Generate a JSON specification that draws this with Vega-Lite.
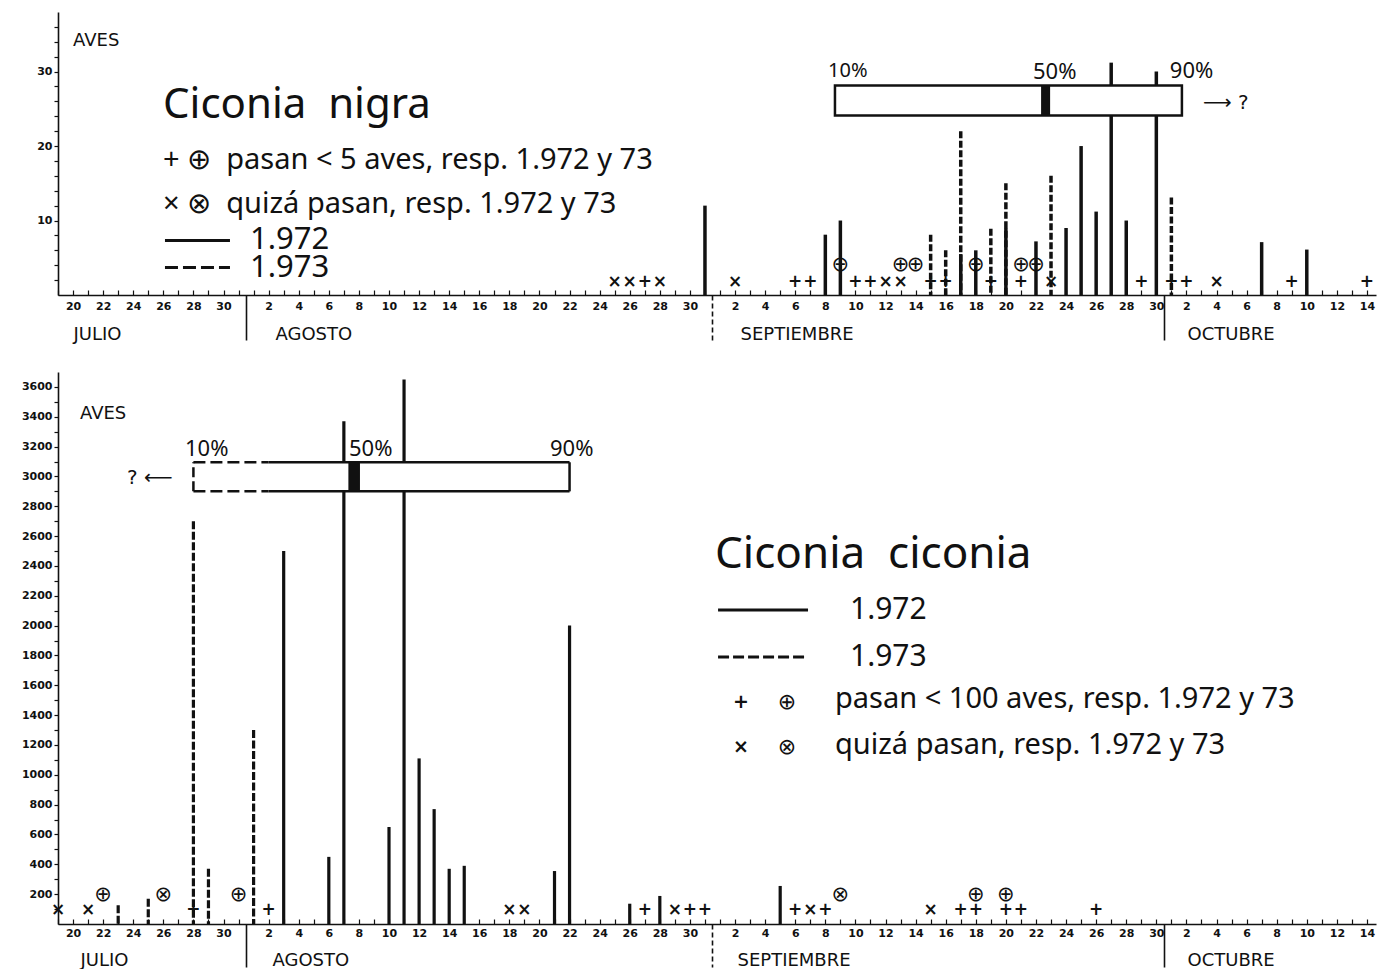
{
  "$schema": "https://vega.github.io/schema/vega-lite/v6.json",
  "background": "white",
  "padding": {"left": 21, "top": 12, "right": 2, "bottom": 0},
  "spacing": 29,
  "config": {"view": {"stroke": null}, "text": {"color": "#111"}},
  "datasets": {
    "uno": [{}],
    "nigra_barras": [
      {"dia": 62, "aves": 12, "anio": 1972},
      {"dia": 70, "aves": 8.1, "anio": 1972},
      {"dia": 71, "aves": 10, "anio": 1972},
      {"dia": 79, "aves": 5.5, "anio": 1972},
      {"dia": 80, "aves": 6, "anio": 1972},
      {"dia": 82, "aves": 9, "anio": 1972},
      {"dia": 84, "aves": 7.2, "anio": 1972},
      {"dia": 86, "aves": 9, "anio": 1972},
      {"dia": 87, "aves": 20, "anio": 1972},
      {"dia": 88, "aves": 11.2, "anio": 1972},
      {"dia": 89, "aves": 31.2, "anio": 1972},
      {"dia": 90, "aves": 10, "anio": 1972},
      {"dia": 92, "aves": 30, "anio": 1972},
      {"dia": 99, "aves": 7.1, "anio": 1972},
      {"dia": 102, "aves": 6.1, "anio": 1972},
      {"dia": 77, "aves": 8.1, "anio": 1973},
      {"dia": 78, "aves": 6, "anio": 1973},
      {"dia": 79, "aves": 22, "anio": 1973},
      {"dia": 81, "aves": 8.9, "anio": 1973},
      {"dia": 82, "aves": 15, "anio": 1973},
      {"dia": 85, "aves": 16, "anio": 1973},
      {"dia": 93, "aves": 13.1, "anio": 1973}
    ],
    "nigra_marcas": [
      {"dia": 56, "anio": 1972, "tipo": "quiza"},
      {"dia": 57, "anio": 1972, "tipo": "quiza"},
      {"dia": 58, "anio": 1972, "tipo": "pasan"},
      {"dia": 59, "anio": 1972, "tipo": "quiza"},
      {"dia": 64, "anio": 1972, "tipo": "quiza"},
      {"dia": 68, "anio": 1972, "tipo": "pasan"},
      {"dia": 69, "anio": 1972, "tipo": "pasan"},
      {"dia": 72, "anio": 1972, "tipo": "pasan"},
      {"dia": 73, "anio": 1972, "tipo": "pasan"},
      {"dia": 74, "anio": 1972, "tipo": "quiza"},
      {"dia": 75, "anio": 1972, "tipo": "quiza"},
      {"dia": 77, "anio": 1972, "tipo": "pasan"},
      {"dia": 78, "anio": 1972, "tipo": "pasan"},
      {"dia": 81, "anio": 1972, "tipo": "pasan"},
      {"dia": 83, "anio": 1972, "tipo": "pasan"},
      {"dia": 85, "anio": 1972, "tipo": "quiza"},
      {"dia": 91, "anio": 1972, "tipo": "pasan"},
      {"dia": 93, "anio": 1972, "tipo": "pasan"},
      {"dia": 94, "anio": 1972, "tipo": "pasan"},
      {"dia": 96, "anio": 1972, "tipo": "quiza"},
      {"dia": 101, "anio": 1972, "tipo": "pasan"},
      {"dia": 106, "anio": 1972, "tipo": "pasan"},
      {"dia": 71, "anio": 1973, "tipo": "pasan"},
      {"dia": 75, "anio": 1973, "tipo": "pasan"},
      {"dia": 76, "anio": 1973, "tipo": "pasan"},
      {"dia": 80, "anio": 1973, "tipo": "pasan"},
      {"dia": 83, "anio": 1973, "tipo": "pasan"},
      {"dia": 84, "anio": 1973, "tipo": "pasan"}
    ],
    "ciconia_barras": [
      {"dia": 34, "aves": 2500, "anio": 1972},
      {"dia": 37, "aves": 450, "anio": 1972},
      {"dia": 38, "aves": 3370, "anio": 1972},
      {"dia": 41, "aves": 650, "anio": 1972},
      {"dia": 42, "aves": 3650, "anio": 1972},
      {"dia": 43, "aves": 1110, "anio": 1972},
      {"dia": 44, "aves": 770, "anio": 1972},
      {"dia": 45, "aves": 370, "anio": 1972},
      {"dia": 46, "aves": 390, "anio": 1972},
      {"dia": 52, "aves": 355, "anio": 1972},
      {"dia": 53, "aves": 2000, "anio": 1972},
      {"dia": 57, "aves": 136, "anio": 1972},
      {"dia": 59, "aves": 188, "anio": 1972},
      {"dia": 67, "aves": 255, "anio": 1972},
      {"dia": 23, "aves": 125, "anio": 1973},
      {"dia": 25, "aves": 170, "anio": 1973},
      {"dia": 28, "aves": 2700, "anio": 1973},
      {"dia": 29, "aves": 370, "anio": 1973},
      {"dia": 32, "aves": 1300, "anio": 1973}
    ],
    "ciconia_marcas": [
      {"dia": 19, "anio": 1972, "tipo": "quiza"},
      {"dia": 21, "anio": 1972, "tipo": "quiza"},
      {"dia": 28, "anio": 1972, "tipo": "pasan"},
      {"dia": 33, "anio": 1972, "tipo": "pasan"},
      {"dia": 49, "anio": 1972, "tipo": "quiza"},
      {"dia": 50, "anio": 1972, "tipo": "quiza"},
      {"dia": 58, "anio": 1972, "tipo": "pasan"},
      {"dia": 60, "anio": 1972, "tipo": "quiza"},
      {"dia": 61, "anio": 1972, "tipo": "pasan"},
      {"dia": 62, "anio": 1972, "tipo": "pasan"},
      {"dia": 68, "anio": 1972, "tipo": "pasan"},
      {"dia": 69, "anio": 1972, "tipo": "quiza"},
      {"dia": 70, "anio": 1972, "tipo": "pasan"},
      {"dia": 77, "anio": 1972, "tipo": "quiza"},
      {"dia": 79, "anio": 1972, "tipo": "pasan"},
      {"dia": 80, "anio": 1972, "tipo": "pasan"},
      {"dia": 82, "anio": 1972, "tipo": "pasan"},
      {"dia": 83, "anio": 1972, "tipo": "pasan"},
      {"dia": 88, "anio": 1972, "tipo": "pasan"},
      {"dia": 22, "anio": 1973, "tipo": "pasan"},
      {"dia": 26, "anio": 1973, "tipo": "quiza"},
      {"dia": 31, "anio": 1973, "tipo": "pasan"},
      {"dia": 71, "anio": 1973, "tipo": "quiza"},
      {"dia": 80, "anio": 1973, "tipo": "pasan"},
      {"dia": 82, "anio": 1973, "tipo": "pasan"}
    ]
  },
  "vconcat": [
    {
      "width": 1318,
      "height": 283,
      "resolve": {"axis": {"x": "independent", "y": "independent"}},
      "layer": [
        {
          "data": {"name": "nigra_barras"},
          "transform": [{"filter": "datum.anio == 1973"}],
          "mark": {"type": "rule", "strokeWidth": 3.5, "strokeDash": [7, 2.5], "color": "#111"},
          "encoding": {
            "x": {"field": "dia", "type": "quantitative", "scale": {"domain": [19, 106.6], "nice": false, "zero": false},
              "axis": {"orient": "bottom", "values": [19,20,21,22,23,24,25,26,27,28,29,30,31,32,33,34,35,36,37,38,39,40,41,42,43,44,45,46,47,48,49,50,51,52,53,54,55,56,57,58,59,60,61,62,63,64,65,66,67,68,69,70,71,72,73,74,75,76,77,78,79,80,81,82,83,84,85,86,87,88,89,90,91,92,93,94,95,96,97,98,99,100,101,102,103,104,105,106],
                "labelExpr": "datum.value <= 31 ? (datum.value % 2 == 0 ? '' + datum.value : '') : datum.value <= 62 ? ((datum.value - 31) % 2 == 0 ? '' + (datum.value - 31) : '') : datum.value <= 92 ? ((datum.value - 62) % 2 == 0 ? '' + (datum.value - 62) : '') : ((datum.value - 92) % 2 == 0 ? '' + (datum.value - 92) : '')",
                "tickSize": -5, "tickWidth": 1.2, "tickColor": "#111", "domainColor": "#111", "domainWidth": 1.6,
                "labelPadding": 10, "labelFont": "DejaVu Sans", "labelFontSize": 11, "labelFontWeight": "bold", "labelColor": "#111",
                "labelOverlap": false, "labelFlush": false, "grid": false, "title": null}},
            "y": {"field": "aves", "type": "quantitative", "scale": {"domain": [0, 38], "nice": false, "zero": false},
              "axis": {"orient": "left", "values": [2,4,6,8,10,12,14,16,18,20,22,24,26,28,30,32,34,36],
                "labelExpr": "datum.value % 10 == 0 ? '' + datum.value : ''",
                "tickSize": 4, "tickWidth": 1.2, "tickColor": "#111", "domainColor": "#111", "domainWidth": 1.6,
                "labelPadding": 2, "labelFont": "DejaVu Sans", "labelFontSize": 11, "labelFontWeight": "bold", "labelColor": "#111",
                "minExtent": 37, "maxExtent": 37, "labelOverlap": false, "grid": false, "title": null}},
            "y2": {"datum": 0}
          }
        },
        {
          "data": {"name": "nigra_barras"},
          "transform": [{"filter": "datum.anio == 1972"}],
          "mark": {"type": "rule", "strokeWidth": 3.5, "color": "#111"},
          "encoding": {
            "x": {"field": "dia", "type": "quantitative", "scale": {"domain": [19, 106.6], "nice": false, "zero": false},
              "axis": {"orient": "bottom", "values": [31.5, 62.5, 92.5], "labels": false, "domain": false, "tickSize": 45, "tickWidth": 1.6, "tickColor": "#111",
                "tickDash": {"condition": {"test": "datum.value == 62.5", "value": [5, 3]}, "value": []}, "grid": false, "title": null}},
            "y": {"field": "aves", "type": "quantitative", "scale": {"domain": [0, 38], "nice": false, "zero": false}, "axis": null},
            "y2": {"datum": 0}
          }
        },
        {
          "data": {"name": "uno"},
          "mark": {"type": "rect", "fill": "white", "stroke": "#111", "strokeWidth": 2.5},
          "encoding": {
            "x": {"datum": 70.64, "type": "quantitative", "axis": null},
            "x2": {"datum": 93.7},
            "y": {"datum": 24.09, "type": "quantitative", "axis": null},
            "y2": {"datum": 28.12}
          }
        },
        {
          "data": {"name": "uno"},
          "mark": {"type": "rect", "fill": "#111"},
          "encoding": {
            "x": {"datum": 84.34, "type": "quantitative", "axis": null},
            "x2": {"datum": 84.94},
            "y": {"datum": 24.09, "type": "quantitative", "axis": null},
            "y2": {"datum": 28.12}
          }
        },
        {
          "data": {"name": "nigra_marcas"},
          "transform": [{"filter": "datum.anio == 1972"}],
          "mark": {"type": "text", "font": "DejaVu Sans", "fontSize": 17, "fontWeight": "bold", "baseline": "middle", "align": "center"},
          "encoding": {
            "x": {"field": "dia", "type": "quantitative", "scale": {"domain": [19, 106.6], "nice": false, "zero": false},
              "axis": {"orient": "bottom", "values": [20, 33.42, 64.33, 94.04], "ticks": false, "domain": false,
                "labelExpr": "datum.value < 30 ? 'JULIO' : datum.value < 60 ? 'AGOSTO' : datum.value < 90 ? 'SEPTIEMBRE' : 'OCTUBRE'",
                "labelAlign": "left", "labelBaseline": "top", "labelPadding": 30, "labelFont": "DejaVu Sans", "labelFontSize": 18, "labelColor": "#111",
                "labelOverlap": false, "labelFlush": false, "grid": false, "title": null}},
            "y": {"datum": 1.81, "type": "quantitative", "axis": null},
            "text": {"condition": {"test": "datum.tipo == 'pasan'", "value": "+"}, "value": "×"}
          }
        },
        {
          "data": {"name": "nigra_marcas"},
          "transform": [{"filter": "datum.anio == 1973"}],
          "mark": {"type": "text", "font": "DejaVu Sans", "fontSize": 21, "baseline": "middle", "align": "center"},
          "encoding": {
            "x": {"field": "dia", "type": "quantitative", "axis": null},
            "y": {"datum": 4.09, "type": "quantitative", "axis": null},
            "text": {"condition": {"test": "datum.tipo == 'pasan'", "value": "⊕"}, "value": "⊗"}
          }
        },
        {
          "data": {"name": "uno"},
          "mark": {"type": "text", "font": "DejaVu Sans", "fontSize": 18, "align": "left", "baseline": "middle"},
          "encoding": {"x": {"datum": 20.0, "type": "quantitative", "axis": null}, "y": {"datum": 34.16, "type": "quantitative", "axis": null}, "text": {"value": "AVES"}}
        },
        {
          "data": {"name": "uno"},
          "mark": {"type": "text", "font": "Noto Sans", "fontSize": 42, "align": "left", "baseline": "middle"},
          "encoding": {"x": {"datum": 25.98, "type": "quantitative", "axis": null}, "y": {"datum": 25.57, "type": "quantitative", "axis": null}, "text": {"value": "Ciconia\u00a0\u00a0nigra"}}
        },
        {
          "data": {"name": "uno"},
          "mark": {"type": "text", "font": "Noto Sans", "fontSize": 29, "align": "left", "baseline": "middle"},
          "encoding": {"x": {"datum": 25.98, "type": "quantitative", "axis": null}, "y": {"datum": 18.19, "type": "quantitative", "axis": null}, "text": {"value": "+ ⊕\u00a0\u00a0pasan < 5 aves, resp. 1.972 y 73"}}
        },
        {
          "data": {"name": "uno"},
          "mark": {"type": "text", "font": "Noto Sans", "fontSize": 29, "align": "left", "baseline": "middle"},
          "encoding": {"x": {"datum": 25.98, "type": "quantitative", "axis": null}, "y": {"datum": 12.28, "type": "quantitative", "axis": null}, "text": {"value": "× ⊗\u00a0\u00a0quizá pasan, resp. 1.972 y 73"}}
        },
        {
          "data": {"name": "uno"},
          "mark": {"type": "rule", "strokeWidth": 3, "color": "#111"},
          "encoding": {"x": {"datum": 26.11, "type": "quantitative", "axis": null}, "x2": {"datum": 30.43}, "y": {"datum": 7.32, "type": "quantitative", "axis": null}}
        },
        {
          "data": {"name": "uno"},
          "mark": {"type": "rule", "strokeWidth": 3, "strokeDash": [13, 5], "color": "#111"},
          "encoding": {"x": {"datum": 26.11, "type": "quantitative", "axis": null}, "x2": {"datum": 30.43}, "y": {"datum": 3.69, "type": "quantitative", "axis": null}}
        },
        {
          "data": {"name": "uno"},
          "mark": {"type": "text", "font": "Noto Sans", "fontSize": 31, "align": "left", "baseline": "middle"},
          "encoding": {"x": {"datum": 31.76, "type": "quantitative", "axis": null}, "y": {"datum": 7.32, "type": "quantitative", "axis": null}, "text": {"value": "1.972"}}
        },
        {
          "data": {"name": "uno"},
          "mark": {"type": "text", "font": "Noto Sans", "fontSize": 31, "align": "left", "baseline": "middle"},
          "encoding": {"x": {"datum": 31.76, "type": "quantitative", "axis": null}, "y": {"datum": 3.69, "type": "quantitative", "axis": null}, "text": {"value": "1.973"}}
        },
        {
          "data": {"name": "uno"},
          "mark": {"type": "text", "font": "Noto Sans", "fontSize": 20, "align": "left", "baseline": "middle"},
          "encoding": {"x": {"datum": 70.18, "type": "quantitative", "axis": null}, "y": {"datum": 30.13, "type": "quantitative", "axis": null}, "text": {"value": "10%"}}
        },
        {
          "data": {"name": "uno"},
          "mark": {"type": "text", "font": "Noto Sans", "fontSize": 22, "align": "left", "baseline": "middle"},
          "encoding": {"x": {"datum": 83.8, "type": "quantitative", "axis": null}, "y": {"datum": 30.0, "type": "quantitative", "axis": null}, "text": {"value": "50%"}}
        },
        {
          "data": {"name": "uno"},
          "mark": {"type": "text", "font": "Noto Sans", "fontSize": 22, "align": "left", "baseline": "middle"},
          "encoding": {"x": {"datum": 92.9, "type": "quantitative", "axis": null}, "y": {"datum": 30.13, "type": "quantitative", "axis": null}, "text": {"value": "90%"}}
        },
        {
          "data": {"name": "uno"},
          "mark": {"type": "text", "font": "DejaVu Sans", "fontSize": 20, "align": "left", "baseline": "middle"},
          "encoding": {"x": {"datum": 95.1, "type": "quantitative", "axis": null}, "y": {"datum": 25.84, "type": "quantitative", "axis": null}, "text": {"value": "⟶ ?"}}
        }
      ]
    },
    {
      "width": 1318,
      "height": 552,
      "resolve": {"axis": {"x": "independent", "y": "independent"}},
      "layer": [
        {
          "data": {"name": "ciconia_barras"},
          "transform": [{"filter": "datum.anio == 1973"}],
          "mark": {"type": "rule", "strokeWidth": 3.2, "strokeDash": [8, 2.5], "color": "#111"},
          "encoding": {
            "x": {"field": "dia", "type": "quantitative", "scale": {"domain": [19, 106.6], "nice": false, "zero": false},
              "axis": {"orient": "bottom", "values": [19,20,21,22,23,24,25,26,27,28,29,30,31,32,33,34,35,36,37,38,39,40,41,42,43,44,45,46,47,48,49,50,51,52,53,54,55,56,57,58,59,60,61,62,63,64,65,66,67,68,69,70,71,72,73,74,75,76,77,78,79,80,81,82,83,84,85,86,87,88,89,90,91,92,93,94,95,96,97,98,99,100,101,102,103,104,105,106],
                "labelExpr": "datum.value <= 31 ? (datum.value % 2 == 0 ? '' + datum.value : '') : datum.value <= 62 ? ((datum.value - 31) % 2 == 0 ? '' + (datum.value - 31) : '') : datum.value <= 92 ? ((datum.value - 62) % 2 == 0 ? '' + (datum.value - 62) : '') : ((datum.value - 92) % 2 == 0 ? '' + (datum.value - 92) : '')",
                "tickSize": -5, "tickWidth": 1.2, "tickColor": "#111", "domainColor": "#111", "domainWidth": 1.6,
                "labelPadding": 8, "labelFont": "DejaVu Sans", "labelFontSize": 11, "labelFontWeight": "bold", "labelColor": "#111",
                "labelOverlap": false, "labelFlush": false, "grid": false, "title": null}},
            "y": {"field": "aves", "type": "quantitative", "scale": {"domain": [0, 3700], "nice": false, "zero": false},
              "axis": {"orient": "left", "values": [100,200,300,400,500,600,700,800,900,1000,1100,1200,1300,1400,1500,1600,1700,1800,1900,2000,2100,2200,2300,2400,2500,2600,2700,2800,2900,3000,3100,3200,3300,3400,3500,3600],
                "labelExpr": "datum.value % 200 == 0 ? '' + datum.value : ''",
                "tickSize": 4, "tickWidth": 1.2, "tickColor": "#111", "domainColor": "#111", "domainWidth": 1.6,
                "labelPadding": 2, "labelFont": "DejaVu Sans", "labelFontSize": 11, "labelFontWeight": "bold", "labelColor": "#111",
                "minExtent": 37, "maxExtent": 37, "labelOverlap": false, "grid": false, "title": null}},
            "y2": {"datum": 0}
          }
        },
        {
          "data": {"name": "ciconia_barras"},
          "transform": [{"filter": "datum.anio == 1972"}],
          "mark": {"type": "rule", "strokeWidth": 3.2, "color": "#111"},
          "encoding": {
            "x": {"field": "dia", "type": "quantitative", "scale": {"domain": [19, 106.6], "nice": false, "zero": false},
              "axis": {"orient": "bottom", "values": [31.5, 62.5, 92.5], "labels": false, "domain": false, "tickSize": 43, "tickWidth": 1.6, "tickColor": "#111",
                "tickDash": {"condition": {"test": "datum.value == 62.5", "value": [5, 3]}, "value": []}, "grid": false, "title": null}},
            "y": {"field": "aves", "type": "quantitative", "scale": {"domain": [0, 3700], "nice": false, "zero": false}, "axis": null},
            "y2": {"datum": 0}
          }
        },
        {
          "data": {"name": "uno"},
          "mark": {"type": "rect", "fill": "white"},
          "encoding": {"x": {"datum": 28, "type": "quantitative", "axis": null}, "x2": {"datum": 53}, "y": {"datum": 2900, "type": "quantitative", "axis": null}, "y2": {"datum": 3095}}
        },
        {
          "data": {"name": "uno"},
          "mark": {"type": "rule", "strokeWidth": 2.5, "color": "#111"},
          "encoding": {"x": {"datum": 33, "type": "quantitative", "axis": null}, "x2": {"datum": 53}, "y": {"datum": 3095, "type": "quantitative", "axis": null}}
        },
        {
          "data": {"name": "uno"},
          "mark": {"type": "rule", "strokeWidth": 2.5, "color": "#111"},
          "encoding": {"x": {"datum": 33, "type": "quantitative", "axis": null}, "x2": {"datum": 53}, "y": {"datum": 2900, "type": "quantitative", "axis": null}}
        },
        {
          "data": {"name": "uno"},
          "mark": {"type": "rule", "strokeWidth": 2.5, "color": "#111"},
          "encoding": {"x": {"datum": 53, "type": "quantitative", "axis": null}, "y": {"datum": 2900, "type": "quantitative", "axis": null}, "y2": {"datum": 3095}}
        },
        {
          "data": {"name": "uno"},
          "mark": {"type": "rule", "strokeWidth": 2.5, "strokeDash": [12, 5], "color": "#111"},
          "encoding": {"x": {"datum": 28, "type": "quantitative", "axis": null}, "x2": {"datum": 33}, "y": {"datum": 3095, "type": "quantitative", "axis": null}}
        },
        {
          "data": {"name": "uno"},
          "mark": {"type": "rule", "strokeWidth": 2.5, "strokeDash": [12, 5], "color": "#111"},
          "encoding": {"x": {"datum": 28, "type": "quantitative", "axis": null}, "x2": {"datum": 33}, "y": {"datum": 2900, "type": "quantitative", "axis": null}}
        },
        {
          "data": {"name": "uno"},
          "mark": {"type": "rule", "strokeWidth": 2.5, "strokeDash": [10, 4], "color": "#111"},
          "encoding": {"x": {"datum": 28, "type": "quantitative", "axis": null}, "y": {"datum": 2900, "type": "quantitative", "axis": null}, "y2": {"datum": 3095}}
        },
        {
          "data": {"name": "uno"},
          "mark": {"type": "rect", "fill": "#111"},
          "encoding": {"x": {"datum": 38.3, "type": "quantitative", "axis": null}, "x2": {"datum": 39.07}, "y": {"datum": 2900, "type": "quantitative", "axis": null}, "y2": {"datum": 3095}}
        },
        {
          "data": {"name": "ciconia_marcas"},
          "transform": [{"filter": "datum.anio == 1972"}],
          "mark": {"type": "text", "font": "DejaVu Sans", "fontSize": 17, "fontWeight": "bold", "baseline": "middle", "align": "center"},
          "encoding": {
            "x": {"field": "dia", "type": "quantitative", "scale": {"domain": [19, 106.6], "nice": false, "zero": false},
              "axis": {"orient": "bottom", "values": [20.46, 33.22, 64.13, 94.04], "ticks": false, "domain": false,
                "labelExpr": "datum.value < 30 ? 'JULIO' : datum.value < 60 ? 'AGOSTO' : datum.value < 90 ? 'SEPTIEMBRE' : 'OCTUBRE'",
                "labelAlign": "left", "labelBaseline": "top", "labelPadding": 27, "labelFont": "DejaVu Sans", "labelFontSize": 18, "labelColor": "#111",
                "labelOverlap": false, "labelFlush": false, "grid": false, "title": null}},
            "y": {"datum": 92, "type": "quantitative", "axis": null},
            "text": {"condition": {"test": "datum.tipo == 'pasan'", "value": "+"}, "value": "×"}
          }
        },
        {
          "data": {"name": "ciconia_marcas"},
          "transform": [{"filter": "datum.anio == 1973"}],
          "mark": {"type": "text", "font": "DejaVu Sans", "fontSize": 21, "baseline": "middle", "align": "center"},
          "encoding": {
            "x": {"field": "dia", "type": "quantitative", "axis": null},
            "y": {"datum": 194, "type": "quantitative", "axis": null},
            "text": {"condition": {"test": "datum.tipo == 'pasan'", "value": "⊕"}, "value": "⊗"}
          }
        },
        {
          "data": {"name": "uno"},
          "mark": {"type": "text", "font": "DejaVu Sans", "fontSize": 18, "align": "left", "baseline": "middle"},
          "encoding": {"x": {"datum": 20.46, "type": "quantitative", "axis": null}, "y": {"datum": 3418, "type": "quantitative", "axis": null}, "text": {"value": "AVES"}}
        },
        {
          "data": {"name": "uno"},
          "mark": {"type": "text", "font": "Noto Sans", "fontSize": 22, "align": "left", "baseline": "middle"},
          "encoding": {"x": {"datum": 27.44, "type": "quantitative", "axis": null}, "y": {"datum": 3184, "type": "quantitative", "axis": null}, "text": {"value": "10%"}}
        },
        {
          "data": {"name": "uno"},
          "mark": {"type": "text", "font": "Noto Sans", "fontSize": 22, "align": "left", "baseline": "middle"},
          "encoding": {"x": {"datum": 38.34, "type": "quantitative", "axis": null}, "y": {"datum": 3184, "type": "quantitative", "axis": null}, "text": {"value": "50%"}}
        },
        {
          "data": {"name": "uno"},
          "mark": {"type": "text", "font": "Noto Sans", "fontSize": 22, "align": "left", "baseline": "middle"},
          "encoding": {"x": {"datum": 51.7, "type": "quantitative", "axis": null}, "y": {"datum": 3184, "type": "quantitative", "axis": null}, "text": {"value": "90%"}}
        },
        {
          "data": {"name": "uno"},
          "mark": {"type": "text", "font": "DejaVu Sans", "fontSize": 20, "align": "left", "baseline": "middle"},
          "encoding": {"x": {"datum": 23.59, "type": "quantitative", "axis": null}, "y": {"datum": 2989, "type": "quantitative", "axis": null}, "text": {"value": "? ⟵"}}
        },
        {
          "data": {"name": "uno"},
          "mark": {"type": "text", "font": "Noto Sans", "fontSize": 44, "align": "left", "baseline": "middle"},
          "encoding": {"x": {"datum": 62.67, "type": "quantitative", "axis": null}, "y": {"datum": 2473, "type": "quantitative", "axis": null}, "text": {"value": "Ciconia\u00a0\u00a0ciconia"}}
        },
        {
          "data": {"name": "uno"},
          "mark": {"type": "rule", "strokeWidth": 3, "color": "#111"},
          "encoding": {"x": {"datum": 62.87, "type": "quantitative", "axis": null}, "x2": {"datum": 68.85}, "y": {"datum": 2105, "type": "quantitative", "axis": null}}
        },
        {
          "data": {"name": "uno"},
          "mark": {"type": "rule", "strokeWidth": 3, "strokeDash": [11, 4], "color": "#111"},
          "encoding": {"x": {"datum": 62.87, "type": "quantitative", "axis": null}, "x2": {"datum": 68.85}, "y": {"datum": 1790, "type": "quantitative", "axis": null}}
        },
        {
          "data": {"name": "uno"},
          "mark": {"type": "text", "font": "Noto Sans", "fontSize": 30, "align": "left", "baseline": "middle"},
          "encoding": {"x": {"datum": 71.64, "type": "quantitative", "axis": null}, "y": {"datum": 2105, "type": "quantitative", "axis": null}, "text": {"value": "1.972"}}
        },
        {
          "data": {"name": "uno"},
          "mark": {"type": "text", "font": "Noto Sans", "fontSize": 30, "align": "left", "baseline": "middle"},
          "encoding": {"x": {"datum": 71.64, "type": "quantitative", "axis": null}, "y": {"datum": 1790, "type": "quantitative", "axis": null}, "text": {"value": "1.973"}}
        },
        {
          "data": {"name": "uno"},
          "mark": {"type": "text", "font": "DejaVu Sans", "fontSize": 19, "fontWeight": "bold", "align": "center", "baseline": "middle"},
          "encoding": {"x": {"datum": 64.39, "type": "quantitative", "axis": null}, "y": {"datum": 1488, "type": "quantitative", "axis": null}, "text": {"value": "+"}}
        },
        {
          "data": {"name": "uno"},
          "mark": {"type": "text", "font": "DejaVu Sans", "fontSize": 22, "align": "center", "baseline": "middle"},
          "encoding": {"x": {"datum": 67.45, "type": "quantitative", "axis": null}, "y": {"datum": 1488, "type": "quantitative", "axis": null}, "text": {"value": "⊕"}}
        },
        {
          "data": {"name": "uno"},
          "mark": {"type": "text", "font": "Noto Sans", "fontSize": 29, "align": "left", "baseline": "middle"},
          "encoding": {"x": {"datum": 70.64, "type": "quantitative", "axis": null}, "y": {"datum": 1508, "type": "quantitative", "axis": null}, "text": {"value": "pasan < 100 aves, resp. 1.972 y 73"}}
        },
        {
          "data": {"name": "uno"},
          "mark": {"type": "text", "font": "DejaVu Sans", "fontSize": 19, "fontWeight": "bold", "align": "center", "baseline": "middle"},
          "encoding": {"x": {"datum": 64.39, "type": "quantitative", "axis": null}, "y": {"datum": 1186, "type": "quantitative", "axis": null}, "text": {"value": "×"}}
        },
        {
          "data": {"name": "uno"},
          "mark": {"type": "text", "font": "DejaVu Sans", "fontSize": 22, "align": "center", "baseline": "middle"},
          "encoding": {"x": {"datum": 67.45, "type": "quantitative", "axis": null}, "y": {"datum": 1186, "type": "quantitative", "axis": null}, "text": {"value": "⊗"}}
        },
        {
          "data": {"name": "uno"},
          "mark": {"type": "text", "font": "Noto Sans", "fontSize": 29, "align": "left", "baseline": "middle"},
          "encoding": {"x": {"datum": 70.64, "type": "quantitative", "axis": null}, "y": {"datum": 1200, "type": "quantitative", "axis": null}, "text": {"value": "quizá pasan, resp. 1.972 y 73"}}
        }
      ]
    }
  ]
}
